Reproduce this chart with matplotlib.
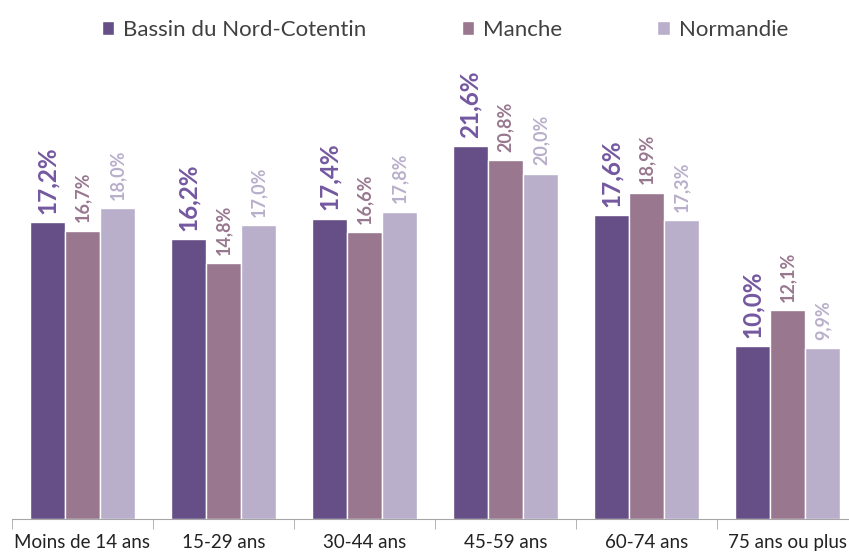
import matplotlib.pyplot as plt
import numpy as np

plt.rcParams['font.family'] = ['Lato', 'DejaVu Sans']

# DATA
categories = ["Moins de 14 ans", "15-29 ans", "30-44 ans", "45-59 ans", "60-74 ans", "75 ans ou plus"]
series_names = ["Bassin du Nord-Cotentin", "Manche", "Normandie"]
bassin = [17.2, 16.2, 17.4, 21.6, 17.6, 10.0]
manche = [16.7, 14.8, 16.6, 20.8, 18.9, 12.1]
normandie = [18.0, 17.0, 17.8, 20.0, 17.3, 9.9]

BAR_COLORS = ["#664e86", "#98778f", "#b9afcb"]
LABEL_COLORS = ["#7458a0", "#98778f", "#b9afcb"]
LABEL_SIZES = [17.5, 13, 13]

W, H = 849, 553
fig = plt.figure(figsize=(W / 100, H / 100), dpi=100)
ax = fig.add_axes([12 / W, 34 / H, 846 / W, 518 / H])

x = np.arange(len(categories))
width = 0.25
offsets = [-0.25, 0.0, 0.25]
all_series = [bassin, manche, normandie]

handles = []
for vals, off, col, lcol, fs, name in zip(all_series, offsets, BAR_COLORS, LABEL_COLORS, LABEL_SIZES, series_names):
    bars = ax.bar(x + off, vals, width, color=col, edgecolor="white", linewidth=1, label=name)
    handles.append(bars)
    for b, v in zip(bars, vals):
        ax.annotate(f"{v:.1f}%".replace(".", ","),
                    (b.get_x() + b.get_width() / 2, b.get_height()),
                    xytext=(0, 6), textcoords="offset points",
                    rotation=90, ha="center", va="bottom",
                    color=lcol, fontsize=fs, fontweight="bold")

ax.set_xlim(-0.5, len(categories) - 0.5)
ax.set_ylim(0, 30)

# axes styling
for s in ["left", "right", "top"]:
    ax.spines[s].set_visible(False)
ax.spines["bottom"].set_color("#a6a6a6")
ax.set_yticks([])
ax.set_xticks(x)
ax.set_xticklabels(categories, fontsize=13.5, color="#222222")
ax.tick_params(axis="x", which="major", length=0, pad=11)
ax.set_xticks(np.arange(-0.5, len(categories)), minor=True)
ax.tick_params(axis="x", which="minor", length=7, color="#a6a6a6")

leg = fig.legend(handles=handles, loc="upper center", bbox_to_anchor=(0.524, 1.0),
                 ncol=3, frameon=False, fontsize=16, handlelength=0.55,
                 handleheight=0.55, handletextpad=0.4, columnspacing=4.3)
for t in leg.get_texts():
    t.set_color("#404040")

fig.savefig("out.png", dpi=100)
